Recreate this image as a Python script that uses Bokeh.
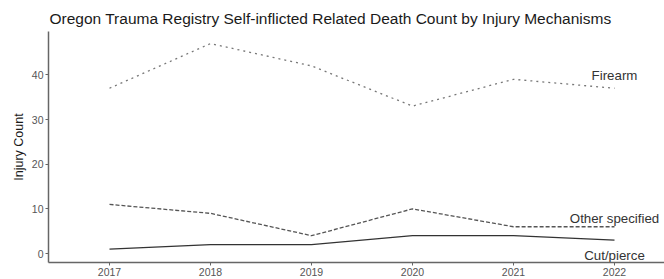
from bokeh.plotting import figure
from bokeh.models import Range1d, ColumnDataSource, FixedTicker
from bokeh.core.properties import value
from bokeh.embed import file_html
from bokeh.resources import INLINE

years = [2017, 2018, 2019, 2020, 2021, 2022]
firearm = [37, 47, 42, 33, 39, 37]
other_specified = [11, 9, 4, 10, 6, 6]
cut_pierce = [1, 2, 2, 4, 4, 3]
series_names = ["Firearm", "Other specified", "Cut/pierce"]
label_y = [39.8, 7.9, -0.4]
y_ticks = [0, 10, 20, 30, 40]

FONT = "Liberation Sans"

p = figure(width=664, height=279, output_backend="svg", toolbar_location=None,
           x_range=Range1d(2016.396, 2022.495), y_range=Range1d(-2.0, 49.7),
           min_border_left=48, min_border_right=0, min_border_top=31, min_border_bottom=17,
           title="Oregon Trauma Registry Self-inflicted Related Death Count by Injury Mechanisms")

p.title.text_font = FONT
p.title.text_font_size = "15.5px"
p.title.text_font_style = "normal"
p.title.text_color = "#1a1a1a"
p.title.align = "left"
p.title.offset = 1
p.title.standoff = 9

p.outline_line_color = None
p.xgrid.grid_line_color = None
p.ygrid.grid_line_color = None
p.background_fill_color = "white"
p.border_fill_color = "white"

p.line(years, firearm, line_color="#777777", line_width=1.3, line_dash="dotted")
p.line(years, other_specified, line_color="#555555", line_width=1.3, line_dash="4 2")
p.line(years, cut_pierce, line_color="#333333", line_width=1.3)

last_x = [years[-1]] * 3
src = ColumnDataSource(dict(x=last_x, y=label_y, t=series_names))
p.text(x="x", y="y", text="t", source=src, text_align="center", text_baseline="middle",
       text_font=value(FONT), text_font_size="13.3px", text_color="#333333")

for ax in (p.xaxis[0], p.yaxis[0]):
    ax.axis_line_color = "#666666"
    ax.axis_line_width = 1.5
    ax.major_tick_line_color = "#666666"
    ax.major_tick_in = 0
    ax.major_tick_out = 3
    ax.minor_tick_line_color = None
    ax.major_label_text_font = FONT
    ax.major_label_text_font_size = "10.5px"
    ax.major_label_text_color = "#555555"
    ax.major_label_standoff = 2

p.xaxis.ticker = FixedTicker(ticks=years)
p.yaxis.ticker = FixedTicker(ticks=y_ticks)
p.yaxis.axis_label = "Injury Count"
p.yaxis.axis_label_text_font = FONT
p.yaxis.axis_label_text_font_size = "12.5px"
p.yaxis.axis_label_text_font_style = "normal"
p.yaxis.axis_label_text_color = "#1a1a1a"
p.yaxis.axis_label_standoff = 3

open("out.html", "w").write(file_html(p, INLINE))
